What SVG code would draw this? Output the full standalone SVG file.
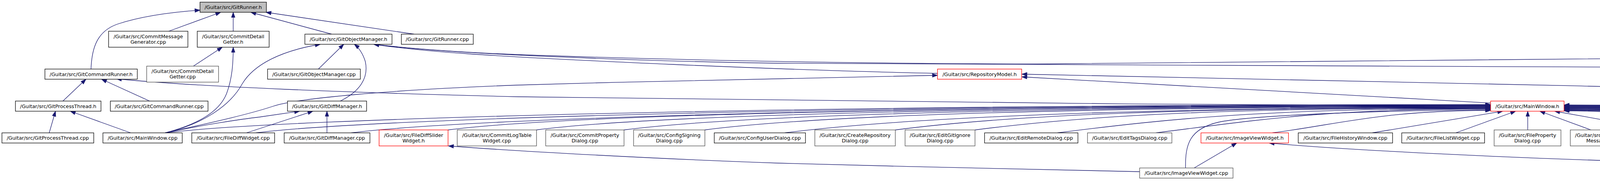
<svg xmlns="http://www.w3.org/2000/svg" width="7958" height="469" viewBox="0 0 7958 469">
<style>
.b{fill:#fff;stroke:#000;stroke-width:1.3}
.g{fill:#fff;stroke:#4d4d4d;stroke-width:1.3}
.r{fill:#fff;stroke:#f00;stroke-width:1.3}
.root{fill:#bfbfbf;stroke:#000;stroke-width:1.3}
text{font-family:"DejaVu Sans","Liberation Sans",sans-serif;font-size:12.8px;fill:#000;text-anchor:middle}
text.l{text-anchor:start}
#edges path{fill:none;stroke:#191970;stroke-width:1.3;marker-end:url(#a)}
</style>
<defs>
<marker id="a" markerUnits="userSpaceOnUse" markerWidth="14" markerHeight="10" refX="13" refY="4.6" orient="auto" overflow="visible"><path d="M0,0 L13,4.6 L0,9.2 z" fill="#191970" stroke="#191970" stroke-width="1"/></marker>
</defs>
<rect width="7958" height="469" fill="#fff"/>
<g id="edges">
<path d="M233,177 C235,120 250,80 300,62 C360,42 440,31 512,26"/>
<path d="M432,80 L565,31.5"/>
<path d="M597,80 L597,31.5"/>
<path d="M849,87.5 L642,31.5"/>
<path d="M1060,87.5 L681,31.5"/>
<path d="M495,169.5 L569,121"/>
<path d="M423,340.5 C500,320 560,290 580,240 C595,200 597,160 597,121"/>
<path d="M423,340.5 C520,318 590,270 620,215 C650,165 720,130 820,113.5"/>
<path d="M815,177 L880,113.5"/>
<path d="M871,259 C920,235 945,200 935,157 C928,135 918,122 907,113.5"/>
<path d="M7771,177 C7700,160 7550,150 7304,147 C6800,138 6300,130 5976,132 C5000,138 3500,162 2656,164 C2100,163 1600,150 1328,140 C1150,133 1030,122 957,113.5"/>
<path d="M7644,423 C7660,370 7640,330 7590,308 C7480,270 7000,235 6640,216 C6200,196 5600,185 4648,174 C3800,168 2600,170 1992,162 C1700,158 1150,140 957,113.5"/>
<path d="M2400,188 C2000,180 1400,152 1200,138 C1080,130 1000,120 957,113.5"/>
<path d="M423,340.5 C560,310 640,292 700,272 C760,252 1000,230 1328,218 C1700,207 2100,198 2400,193"/>
<path d="M3816,264 L2616,197"/>
<path d="M7724,340.5 C7600,318 7300,305 6640,285 C6000,265 4000,217 2616,190"/>
<path d="M423,340.5 C520,320 620,305 664,300 L767,285"/>
<path d="M631,340.5 L801,285"/>
<path d="M837,340.5 L837,285"/>
<path d="M161,259 L220,203"/>
<path d="M383,259 L260,203"/>
<path d="M3816,271 C3000,268 2000,262 1328,248 C900,238 500,222 298,202"/>
<path d="M126,340.5 L142,285"/>
<path d="M334.5,340.5 L180,285"/>
<path d="M3057,430.5 L3166,366.5"/>
<path d="M7539,443 C7000,443 6200,441 5976,439 C5300,433 4648,424 4300,417 C3900,407 3450,385 3249,366.5"/>
<path d="M2917.5,440 C2700,437 2300,426 1992,418 C1700,408 1328,388 1148,374"/>
<path d="M3035,430.5 C3034,370 3045,330 3120,313 C3200,296 3500,284 3816,281"/>
<path d="M423,340.5 C723,302 2120,268 3816,268"/>
<path d="M655,340.5 C955,302 2236,269 3816,269"/>
<path d="M899,340.5 C1199,302 2358,270 3816,270"/>
<path d="M1147,333 C1447,294 2482,271 3816,271"/>
<path d="M1373,333 C1673,294 2595,272 3816,272"/>
<path d="M1597,333 C1897,294 2706,273 3816,273"/>
<path d="M1804,333 C2104,294 2810,274 3816,274"/>
<path d="M2009,340.5 C2309,302 2912,275 3816,275"/>
<path d="M2292,333 C2592,294 3054,276 3816,276"/>
<path d="M2496,333 C2796,294 3156,277 3816,277"/>
<path d="M2707,340.5 C3007,302 3261,278 3816,278"/>
<path d="M2959,340.5 C3216,308 3387,279 3816,279"/>
<path d="M3257,340.5 C3425,319 3536,283 3816,283"/>
<path d="M3513,340.5 L3847,285"/>
<path d="M3727,340.5 L3880,285"/>
<path d="M3911,333 L3911,285"/>
<path d="M4073,333 L3942,285"/>
<path d="M4247,333 L3980,285"/>
<path d="M4513,340.5 C4360,321 4258,284 4004,284"/>
<path d="M4689,333 C4484,306 4346,283 4004,283"/>
<path d="M4934,340.5 C4655,305 4469,282 4004,282"/>
<path d="M5169,340.5 C4869,302 4586,281 4004,281"/>
<path d="M5362,333 C5062,294 4683,280 4004,280"/>
<path d="M5606,333 C5306,294 4805,279 4004,279"/>
<path d="M5821,333 C5521,294 4912,278 4004,278"/>
<path d="M6035,333 C5735,294 5020,277 4004,277"/>
<path d="M6242,333 C5942,294 5123,276 4004,276"/>
<path d="M6505,340.5 C6205,302 5254,275 4004,275"/>
<path d="M6756,340.5 C6456,302 5380,274 4004,274"/>
<path d="M6989,340.5 C6689,302 5496,273 4004,273"/>
<path d="M7180,333 C6880,294 5592,272 4004,272"/>
<path d="M7429,340.5 C7129,302 5716,271 4004,271"/>
<path d="M7724,340.5 C7424,302 5864,270 4004,270"/>
<path d="M7638,423 C7638,370 7625,335 7550,321 C7300,300 5000,270 4004,269"/>
</g>
<g id="GitRunner_h"><rect class="root" x="512" y="5.5" width="170" height="26"/><text x="597" y="23">/Guitar/src/GitRunner.h</text></g>
<g id="CommitMessageGenerator_cpp"><rect class="b" x="278" y="80" width="203" height="41"/><text x="379.5" y="97.7">/Guitar/src/CommitMessage</text><text x="379.5" y="111.7">Generator.cpp</text></g>
<g id="CommitDetailGetter_h"><rect class="b" x="505" y="80" width="184" height="41"/><text x="597" y="97.7">/Guitar/src/CommitDetail</text><text x="597" y="111.7">Getter.h</text></g>
<g id="GitObjectManager_h"><rect class="b" x="780.5" y="87.5" width="223" height="26"/><text x="892" y="105">/Guitar/src/GitObjectManager.h</text></g>
<g id="GitRunner_cpp"><rect class="b" x="1027.5" y="87.5" width="184" height="26"/><text x="1119.5" y="105">/Guitar/src/GitRunner.cpp</text></g>
<g id="GitCommandRunner_h"><rect class="b" x="115" y="177" width="236.5" height="26"/><text x="233.3" y="194.5">/Guitar/src/GitCommandRunner.h</text></g>
<g id="CommitDetailGetter_cpp"><rect class="g" x="375.5" y="169.5" width="184" height="41"/><text x="467.5" y="187.2">/Guitar/src/CommitDetail</text><text x="467.5" y="201.2">Getter.cpp</text></g>
<g id="GitObjectManager_cpp"><rect class="b" x="685" y="177" width="237.5" height="26"/><text x="803.8" y="194.5">/Guitar/src/GitObjectManager.cpp</text></g>
<g id="RepositoryModel_h"><rect class="r" x="2400" y="177" width="215.5" height="26"/><text x="2507.8" y="194.5">/Guitar/src/RepositoryModel.h</text></g>
<g id="AbstractGitSession_h"><rect class="r" x="7724.5" y="177" width="228" height="26"/><text x="7838.5" y="194.5">/Guitar/src/AbstractGitSession.h</text></g>
<g id="GitProcessThread_h"><rect class="b" x="39.5" y="259" width="219" height="26"/><text x="149" y="276.5">/Guitar/src/GitProcessThread.h</text></g>
<g id="GitCommandRunner_cpp"><rect class="b" x="282.5" y="259" width="250" height="26"/><text x="407.5" y="276.5">/Guitar/src/GitCommandRunner.cpp</text></g>
<g id="GitDiffManager_h"><rect class="b" x="736" y="259" width="202.5" height="26"/><text x="837.3" y="276.5">/Guitar/src/GitDiffManager.h</text></g>
<g id="MainWindow_h"><rect class="r" x="3816" y="259" width="188" height="26"/><text x="3910" y="276.5">/Guitar/src/MainWindow.h</text></g>
<g id="GitProcessThread_cpp"><rect class="b" x="5" y="340.5" width="235" height="26"/><text x="122.5" y="358">/Guitar/src/GitProcessThread.cpp</text></g>
<g id="MainWindow_cpp"><rect class="b" x="263.5" y="340.5" width="203" height="26"/><text x="365" y="358">/Guitar/src/MainWindow.cpp</text></g>
<g id="FileDiffWidget_cpp"><rect class="b" x="491" y="340.5" width="212" height="26"/><text x="597" y="358">/Guitar/src/FileDiffWidget.cpp</text></g>
<g id="GitDiffManager_cpp"><rect class="b" x="727.5" y="340.5" width="219.5" height="26"/><text x="837.3" y="358">/Guitar/src/GitDiffManager.cpp</text></g>
<g id="FileDiffSliderWidget_h"><rect class="r" x="970.5" y="333" width="176.5" height="41"/><text x="1058.8" y="350.7">/Guitar/src/FileDiffSlider</text><text x="1058.8" y="364.7">Widget.h</text></g>
<g id="CommitLogTableWidget_cpp"><rect class="g" x="1170.5" y="333" width="203" height="41"/><text x="1272" y="350.7">/Guitar/src/CommitLogTable</text><text x="1272" y="364.7">Widget.cpp</text></g>
<g id="CommitPropertyDialog_cpp"><rect class="g" x="1397" y="333" width="200.5" height="41"/><text x="1497.3" y="350.7">/Guitar/src/CommitProperty</text><text x="1497.3" y="364.7">Dialog.cpp</text></g>
<g id="ConfigSigningDialog_cpp"><rect class="g" x="1622" y="333" width="182.5" height="41"/><text x="1713.3" y="350.7">/Guitar/src/ConfigSigning</text><text x="1713.3" y="364.7">Dialog.cpp</text></g>
<g id="ConfigUserDialog_cpp"><rect class="b" x="1828.5" y="340.5" width="233.5" height="26"/><text x="1945.3" y="358">/Guitar/src/ConfigUserDialog.cpp</text></g>
<g id="CreateRepositoryDialog_cpp"><rect class="g" x="2086" y="333" width="206" height="41"/><text x="2189" y="350.7">/Guitar/src/CreateRepository</text><text x="2189" y="364.7">Dialog.cpp</text></g>
<g id="EditGitIgnoreDialog_cpp"><rect class="g" x="2317" y="333" width="179" height="41"/><text x="2406.5" y="350.7">/Guitar/src/EditGitIgnore</text><text x="2406.5" y="364.7">Dialog.cpp</text></g>
<g id="EditRemoteDialog_cpp"><rect class="b" x="2520.5" y="340.5" width="239" height="26"/><text x="2640" y="358">/Guitar/src/EditRemoteDialog.cpp</text></g>
<g id="EditTagsDialog_cpp"><rect class="g" x="2784" y="340.5" width="216" height="26"/><text x="2892" y="358">/Guitar/src/EditTagsDialog.cpp</text></g>
<g id="ImageViewWidget_h"><rect class="r" x="3074.5" y="340.5" width="224" height="26"/><text x="3186.5" y="358">/Guitar/src/ImageViewWidget.h</text></g>
<g id="FileHistoryWindow_cpp"><rect class="b" x="3323.5" y="340.5" width="241.5" height="26"/><text x="3444.3" y="358">/Guitar/src/FileHistoryWindow.cpp</text></g>
<g id="FileListWidget_cpp"><rect class="b" x="3588.5" y="340.5" width="212" height="26"/><text x="3694.5" y="358">/Guitar/src/FileListWidget.cpp</text></g>
<g id="FilePropertyDialog_cpp"><rect class="g" x="3825" y="333" width="171" height="41"/><text x="3910.5" y="350.7">/Guitar/src/FileProperty</text><text x="3910.5" y="364.7">Dialog.cpp</text></g>
<g id="GenerateCommitMessageDialog_cpp"><rect class="g" x="4020" y="333" width="205.5" height="41"/><text x="4122.8" y="350.7">/Guitar/src/GenerateCommit</text><text x="4122.8" y="364.7">MessageDialog.cpp</text></g>
<g id="GenerateCommitMessageThread_cpp"><rect class="g" x="4249" y="333" width="205.5" height="41"/><text x="4351.8" y="350.7">/Guitar/src/GenerateCommit</text><text x="4351.8" y="364.7">MessageThread.cpp</text></g>
<g id="GitHubAPI_cpp"><rect class="b" x="4478.5" y="340.5" width="186.5" height="26"/><text x="4571.8" y="358">/Guitar/src/GitHubAPI.cpp</text></g>
<g id="MyTextEditorWidget_cpp"><rect class="g" x="4689" y="333" width="179" height="41"/><text x="4778.5" y="350.7">/Guitar/src/MyTextEditor</text><text x="4778.5" y="364.7">Widget.cpp</text></g>
<g id="MyToolButton_cpp"><rect class="b" x="4893" y="340.5" width="208.5" height="26"/><text x="4997.3" y="358">/Guitar/src/MyToolButton.cpp</text></g>
<g id="ReflogWindow_cpp"><rect class="b" x="5125.5" y="340.5" width="213" height="26"/><text x="5232" y="358">/Guitar/src/ReflogWindow.cpp</text></g>
<g id="RepositoryPropertyDialog_cpp"><rect class="g" x="5362.5" y="333" width="219" height="41"/><text x="5472" y="350.7">/Guitar/src/RepositoryProperty</text><text x="5472" y="364.7">Dialog.cpp</text></g>
<g id="RepositoryTreeWidget_cpp"><rect class="g" x="5606" y="333" width="190.5" height="41"/><text x="5701.3" y="350.7">/Guitar/src/RepositoryTree</text><text x="5701.3" y="364.7">Widget.cpp</text></g>
<g id="SearchFromGitHubDialog_cpp"><rect class="g" x="5821" y="333" width="190" height="41"/><text x="5916" y="350.7">/Guitar/src/SearchFromGit</text><text x="5916" y="364.7">HubDialog.cpp</text></g>
<g id="SelectGpgKeyDialog_cpp"><rect class="g" x="6035" y="333" width="183" height="41"/><text x="6126.5" y="350.7">/Guitar/src/SelectGpgKey</text><text x="6126.5" y="364.7">Dialog.cpp</text></g>
<g id="AddRepositoryDialog_cpp"><rect class="g" x="6241.5" y="333" width="188.5" height="41"/><text x="6335.8" y="350.7">/Guitar/src/AddRepository</text><text x="6335.8" y="364.7">Dialog.cpp</text></g>
<g id="ApplicationGlobal_cpp"><rect class="b" x="6454.5" y="340.5" width="234.5" height="26"/><text x="6571.8" y="358">/Guitar/src/ApplicationGlobal.cpp</text></g>
<g id="AvatarLoader_cpp"><rect class="b" x="6713" y="340.5" width="205.5" height="26"/><text x="6815.8" y="358">/Guitar/src/AvatarLoader.cpp</text></g>
<g id="BlameWindow_cpp"><rect class="b" x="6942.5" y="340.5" width="213.5" height="26"/><text x="7049.3" y="358">/Guitar/src/BlameWindow.cpp</text></g>
<g id="ColorSquareWidget_cpp"><rect class="g" x="7180" y="333" width="178" height="41"/><text class="l" x="7191" y="350.7">/Guitar/src/coloredit</text><text class="l" x="7191" y="364.7">/ColorSquareWidget.cpp</text></g>
<g id="CommitDialog_cpp"><rect class="b" x="7383" y="340.5" width="214.5" height="26"/><text x="7490.3" y="358">/Guitar/src/CommitDialog.cpp</text></g>
<g id="main_cpp"><rect class="b" x="7724.5" y="340.5" width="153.5" height="26"/><text x="7801.3" y="358">/Guitar/src/main.cpp</text></g>
<g id="ImageViewWidget_cpp"><rect class="g" x="2917.5" y="430.5" width="239" height="26"/><text x="3037" y="448">/Guitar/src/ImageViewWidget.cpp</text></g>
<g id="CommitExploreWindow_cpp"><rect class="b" x="7539" y="423" width="194" height="41"/><text x="7636" y="440.7">/Guitar/src/CommitExplore</text><text x="7636" y="454.7">Window.cpp</text></g>
</svg>
